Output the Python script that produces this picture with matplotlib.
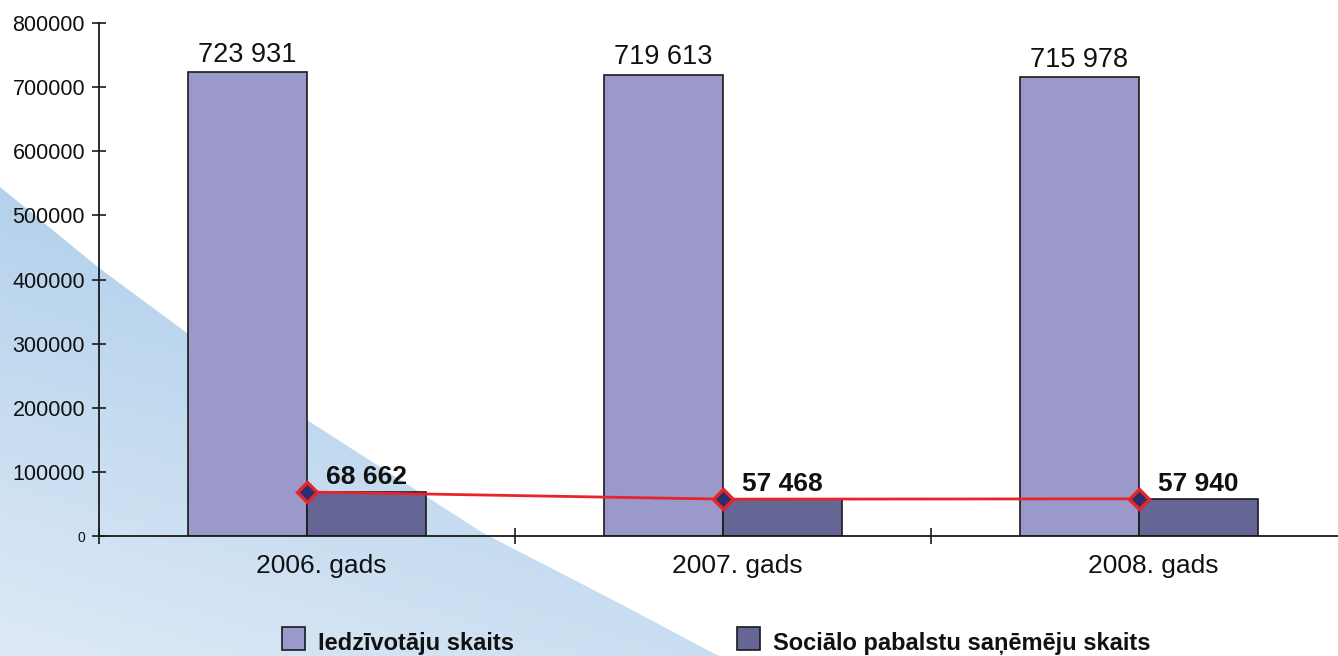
import matplotlib
matplotlib.use('Agg')
import matplotlib.pyplot as plt
import numpy as np
from matplotlib.patches import Polygon, Rectangle
from matplotlib.ticker import FixedLocator

plt.rcParams['font.family'] = ['Liberation Sans', 'DejaVu Sans']

years = ['2006. gads', '2007. gads', '2008. gads']
residents = [723931, 719613, 715978]
recipients = [68662, 57468, 57940]
resident_labels = ['723 931', '719 613', '715 978']
recipient_labels = ['68 662', '57 468', '57 940']
y_ticks = [0, 100000, 200000, 300000, 400000, 500000, 600000, 700000, 800000]
legend_names = ['Iedzīvotāju skaits', 'Sociālo pabalstu saņēmēju skaits']

LIGHT = '#9a99c9'
DARK = '#666696'
RED = '#e8232b'
NAVY = '#2b2f6b'

W, H = 1338, 656
fig = plt.figure(figsize=(W / 100, H / 100), dpi=100)

# background: blue gradient swoosh in the lower left corner (pixel coords)
bg = fig.add_axes([0, 0, 1, 1], zorder=0)
bg.set_xlim(0, W)
bg.set_ylim(H, 0)
bg.axis('off')
yy, xx = np.mgrid[0:H, 0:W]
t = np.clip((yy - 180) / 476.0 - 0.45 * xx / 720.0, 0, 1)
c1 = np.array([0.70, 0.82, 0.925])
c2 = np.array([0.87, 0.915, 0.965])
img = c1[None, None, :] * (1 - t[..., None]) + c2[None, None, :] * t[..., None]
im = bg.imshow(img, extent=(0, W, H, 0), interpolation='bilinear')
edge = [(0, 187), (99, 268), (187, 333), (307, 420), (483, 533),
        (613, 600), (713, 653), (720, 656), (0, 656)]
clip = Polygon(edge, closed=True, transform=bg.transData, facecolor='none', edgecolor='none')
bg.add_patch(clip)
im.set_clip_path(clip)

# main chart
ax = fig.add_axes([99 / W, 1 - 536 / H, 1 - 99 / W, 513 / H], zorder=1)
ax.patch.set_alpha(0)
x = np.arange(len(years))
w = 0.287
ax.bar(x - w / 2, residents, w, color=LIGHT, edgecolor='#1a1a1a', linewidth=1.2, zorder=2)
ax.bar(x + w / 2, recipients, w, color=DARK, edgecolor='#1a1a1a', linewidth=1.2, zorder=2)
ax.plot(x, recipients, color=RED, lw=2, marker='D', ms=10, mfc=NAVY, mec=RED, mew=2.4, zorder=4)

for xi, v, lab in zip(x, residents, resident_labels):
    ax.annotate(lab, (xi - w / 2, v), xytext=(0, 3), textcoords='offset points',
                ha='center', va='bottom', fontsize=19.5, color='#111111')
for xi, v, lab in zip(x, recipients, recipient_labels):
    ax.annotate(lab, (xi + w / 2, v), xytext=(0, 2), textcoords='offset points',
                ha='center', va='bottom', fontsize=19, fontweight='bold', color='#111111')

ax.set_xlim(-0.5, -0.5 + (W - 99) / 416)
ax.set_ylim(0, 800000)
ax.spines['top'].set_visible(False)
ax.spines['right'].set_visible(False)
for s in ('left', 'bottom'):
    ax.spines[s].set_linewidth(1.3)
    ax.spines[s].set_color('#1a1a1a')

ax.set_yticks(y_ticks)
ax.set_yticklabels([str(v) for v in y_ticks], fontsize=15.5, color='#111111')
ax.get_yticklabels()[0].set_fontsize(10)
ax.tick_params(axis='y', direction='inout', length=10, width=1.2, pad=5, color='#1a1a1a')

ax.set_xticks(x + 0.035)
ax.set_xticklabels(years, fontsize=19, color='#111111')
ax.tick_params(axis='x', which='major', length=0, pad=13)
ax.xaxis.set_minor_locator(FixedLocator(np.arange(-0.5, len(years), 1.0)))
ax.tick_params(axis='x', which='minor', direction='inout', length=12, width=1.2, color='#1a1a1a')

# legend along the bottom edge
base = 650
for (px, col), name in zip([(282, LIGHT), (737, DARK)], legend_names):
    fig.patches.append(Rectangle((px / W, 1 - base / H), 23 / W, 23 / H,
                                 transform=fig.transFigure, facecolor=col,
                                 edgecolor='#1a1a1a', linewidth=1.2, zorder=3))
    fig.text((px + 36) / W, 1 - base / H, name, fontsize=17, fontweight='bold',
             ha='left', va='baseline', color='#111111', zorder=3)

fig.savefig('out.png', dpi=100)
